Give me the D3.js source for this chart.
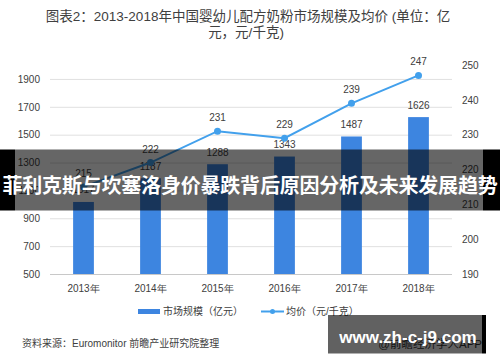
<!DOCTYPE html>
<html>
<head>
<meta charset="utf-8">
<script src="https://cdn.jsdelivr.net/npm/d3@7"></script>
<style>
  body { margin: 0; background: #fff; }
  svg { display: block; font-family: "Liberation Sans", "Noto Sans CJK SC", sans-serif; }
</style>
</head>
<body>
<div id="chart"></div>
<script>
const years = ["2013年", "2014年", "2015年", "2016年", "2017年", "2018年"];
const marketSize = [1017, 1187, 1288, 1343, 1487, 1626];
const avgPrice = [215, 222, 231, 229, 239, 247];
const leftTicks = [500, 700, 900, 1100, 1300, 1500, 1700, 1900];
const rightTicks = [190, 200, 210, 220, 230, 240, 250];

const width = 500;
const height = 362;
const margin = { top: 65, right: 48, bottom: 88, left: 50 };
const barColor = "#3d85e0";
const lineColor = "#42a0ec";
const textColor = "#404040";

const svg = d3.select("#chart")
  .append("svg")
    .attr("width", width)
    .attr("height", height);

// Title
const title = svg.append("text")
    .attr("text-anchor", "middle")
    .attr("fill", textColor)
    .attr("font-size", 13.5);
title.append("tspan").attr("x", 248).attr("y", 21)
  .text("图表2：2013-2018年中国婴幼儿配方奶粉市场规模及均价 (单位：亿");
title.append("tspan").attr("x", 246).attr("y", 37)
  .text("元，元/千克)");

// Scales
const xScale = d3.scaleBand()
  .domain(years)
  .range([margin.left, width - margin.right])
  .paddingInner(0.69)
  .paddingOuter(0.345);
const yLeft = d3.scaleLinear()
  .domain([500, 2000])
  .range([height - margin.bottom, margin.top]);
const yRight = d3.scaleLinear()
  .domain([190, 250])
  .range([height - margin.bottom, margin.top]);

// Grid + left axis
const leftAxis = d3.axisLeft(yLeft)
  .tickValues(leftTicks)
  .tickFormat(d3.format("d"))
  .tickSize(-(width - margin.left - margin.right))
  .tickPadding(10);
const gLeft = svg.append("g")
    .attr("transform", `translate(${margin.left},0)`)
    .call(leftAxis);
gLeft.select(".domain").remove();
gLeft.selectAll(".tick line")
    .attr("stroke", d => d === 500 ? "#c8c8c8" : "#e0e0e0");
gLeft.selectAll(".tick text")
    .attr("fill", textColor)
    .attr("font-size", 10)
    .attr("font-family", "Liberation Sans, sans-serif");

const rightAxis = d3.axisRight(yRight)
  .tickValues(rightTicks)
  .tickFormat(d3.format("d"))
  .tickSize(0)
  .tickPadding(10);
const gRight = svg.append("g")
    .attr("transform", `translate(${width - margin.right},0)`)
    .call(rightAxis);
gRight.select(".domain").remove();
gRight.selectAll(".tick text")
    .attr("fill", textColor)
    .attr("font-size", 10)
    .attr("font-family", "Liberation Sans, sans-serif");

const bottomAxis = d3.axisBottom(xScale)
  .tickSize(0)
  .tickPadding(11);
const gBottom = svg.append("g")
    .attr("transform", `translate(0,${height - margin.bottom})`)
    .call(bottomAxis);
gBottom.select(".domain").remove();
gBottom.selectAll(".tick text")
    .attr("fill", textColor)
    .attr("font-size", 10);

// Bars
svg.append("g")
  .selectAll("rect")
  .data(marketSize)
  .join("rect")
    .attr("x", (d, i) => xScale(years[i]))
    .attr("y", d => yLeft(d))
    .attr("width", xScale.bandwidth())
    .attr("height", d => yLeft(500) - yLeft(d))
    .attr("fill", barColor);

svg.append("g")
  .selectAll("text")
  .data(marketSize)
  .join("text")
    .attr("x", (d, i) => xScale(years[i]) + xScale.bandwidth() / 2)
    .attr("y", d => yLeft(d) - 8.5)
    .attr("text-anchor", "middle")
    .attr("font-size", 10)
    .attr("fill", textColor)
    .text(d => d);

// Price line
const cx = (d, i) => xScale(years[i]) + xScale.bandwidth() / 2;
const line = d3.line()
  .x(cx)
  .y(d => yRight(d));
svg.append("path")
    .datum(avgPrice)
    .attr("d", line)
    .attr("fill", "none")
    .attr("stroke", lineColor)
    .attr("stroke-width", 2);
svg.append("g")
  .selectAll("circle")
  .data(avgPrice)
  .join("circle")
    .attr("cx", cx)
    .attr("cy", d => yRight(d))
    .attr("r", 3.5)
    .attr("fill", lineColor);
svg.append("g")
  .selectAll("text")
  .data(avgPrice)
  .join("text")
    .attr("x", cx)
    .attr("y", d => yRight(d) - 10)
    .attr("text-anchor", "middle")
    .attr("font-size", 10)
    .attr("fill", textColor)
    .text(d => d);

// Legend
const legend = svg.append("g").attr("font-size", 10).attr("fill", textColor);
legend.append("rect")
    .attr("x", 138).attr("y", 309).attr("width", 22).attr("height", 5)
    .attr("fill", barColor);
legend.append("text").attr("x", 163).attr("y", 315).text("市场规模（亿元）");
legend.append("line")
    .attr("x1", 261).attr("x2", 284).attr("y1", 311.5).attr("y2", 311.5)
    .attr("stroke", lineColor).attr("stroke-width", 2);
legend.append("circle")
    .attr("cx", 272.5).attr("cy", 311.5).attr("r", 2.5)
    .attr("fill", lineColor);
legend.append("text").attr("x", 286).attr("y", 315).text("均价（元/千克）");

// Source
svg.append("text")
    .attr("x", 22).attr("y", 347)
    .attr("font-size", 10).attr("fill", textColor)
    .text("资料来源：Euromonitor 前瞻产业研究院整理");
svg.append("text")
    .attr("x", 482).attr("y", 348)
    .attr("text-anchor", "end")
    .attr("font-size", 11.5).attr("fill", "#333")
    .text("@前瞻经济学人APP");

// Overlay banner (black side bars, translucent middle)
svg.append("rect")
    .attr("x", 0).attr("y", 149.5).attr("width", 15).attr("height", 61)
    .attr("fill", "#000");
svg.append("rect")
    .attr("x", 483).attr("y", 149.5).attr("width", 17).attr("height", 61)
    .attr("fill", "#000");
svg.append("rect")
    .attr("x", 15).attr("y", 149.5).attr("width", 468).attr("height", 61)
    .attr("fill", "#000").attr("fill-opacity", 0.6);
svg.append("text")
    .attr("x", 250).attr("y", 184)
    .attr("text-anchor", "middle")
    .attr("dominant-baseline", "central")
    .attr("font-size", 20).attr("font-weight", "bold")
    .attr("font-family", "Noto Sans CJK SC, sans-serif")
    .attr("letter-spacing", -0.2)
    .attr("fill", "#fff")
    .text("菲利克斯与坎塞洛身价暴跌背后原因分析及未来发展趋势");

// Bottom-right site badge
svg.append("rect")
    .attr("x", 328).attr("y", 315).attr("width", 154).attr("height", 38.5)
    .attr("fill", "#000").attr("fill-opacity", 0.62);
svg.append("rect")
    .attr("x", 482).attr("y", 315).attr("width", 4).attr("height", 38.5)
    .attr("fill", "#000");
svg.append("text")
    .attr("x", 408).attr("y", 343)
    .attr("text-anchor", "middle")
    .attr("font-size", 17).attr("font-weight", "bold")
    .attr("font-family", "Liberation Sans, sans-serif")
    .attr("fill", "#fff")
    .text("www.zh-c-j9.com");
</script>
</body>
</html>
